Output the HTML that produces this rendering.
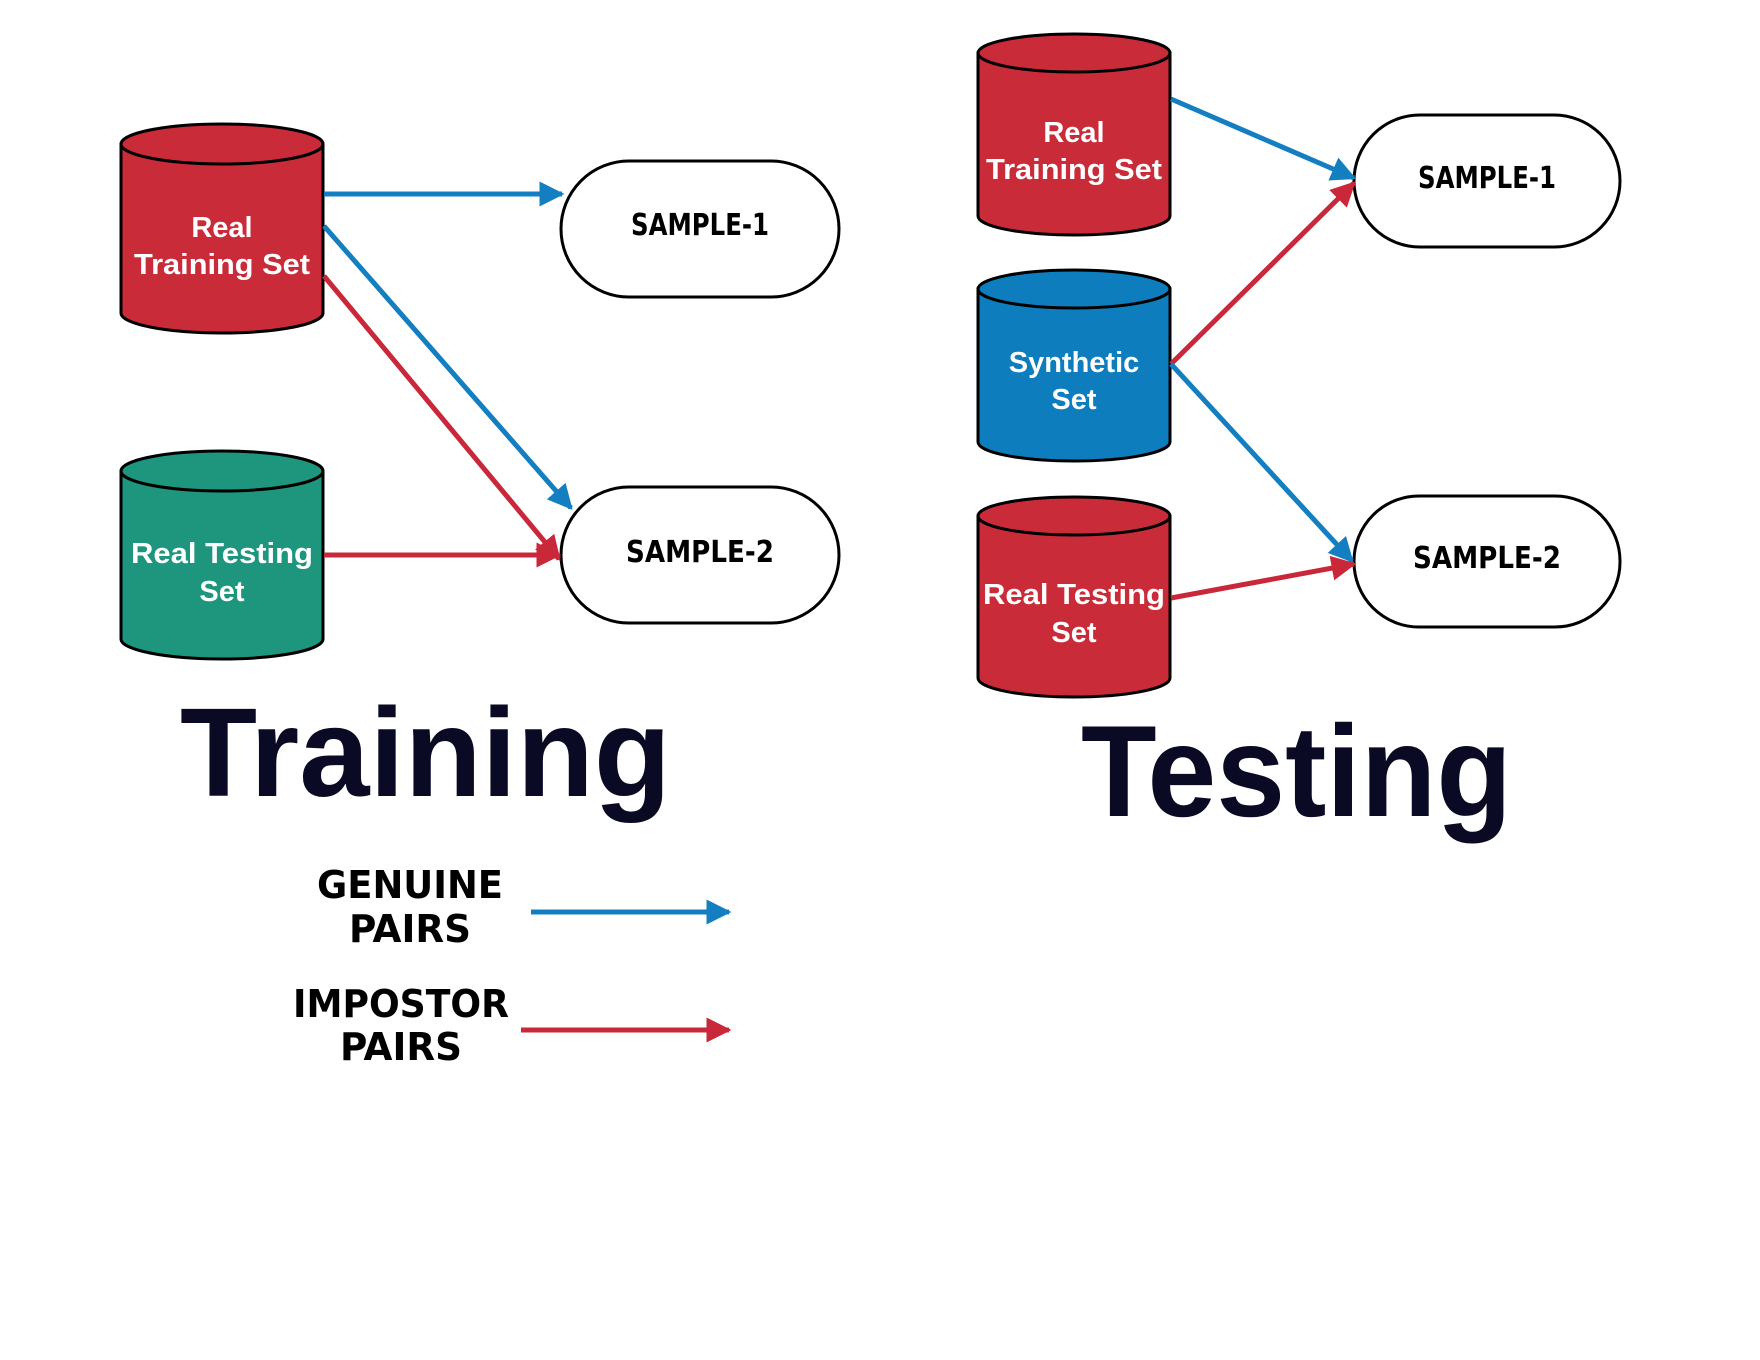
<!DOCTYPE html>
<html><head><meta charset="utf-8"><style>html,body{margin:0;padding:0;background:#fff}svg{display:block}</style></head>
<body>
<svg width="1760" height="1360" viewBox="0 0 1760 1360" xmlns="http://www.w3.org/2000/svg">
<defs>
<marker id="ab" viewBox="0 0 10 10" refX="9" refY="5" markerWidth="5" markerHeight="5" orient="auto" markerUnits="strokeWidth"><path d="M0,0 L10,5 L0,10 z" fill="#137fc1"/></marker>
<marker id="ar" viewBox="0 0 10 10" refX="9" refY="5" markerWidth="5" markerHeight="5" orient="auto" markerUnits="strokeWidth"><path d="M0,0 L10,5 L0,10 z" fill="#c9283a"/></marker>
</defs>
<g stroke="#000" stroke-width="3">
<path d="M121,144 V313 A101,20 0 0 0 323,313 V144 Z" fill="#c92b39"/>
<ellipse cx="222" cy="144" rx="101" ry="20" fill="#c92b39"/>
<path d="M121,471 V639 A101,20 0 0 0 323,639 V471 Z" fill="#1d967d"/>
<ellipse cx="222" cy="471" rx="101" ry="20" fill="#1d967d"/>
<path d="M978,53 V216 A96,19 0 0 0 1170,216 V53 Z" fill="#c92b39"/>
<ellipse cx="1074" cy="53" rx="96" ry="19" fill="#c92b39"/>
<path d="M978,289 V442 A96,19 0 0 0 1170,442 V289 Z" fill="#0d7dbd"/>
<ellipse cx="1074" cy="289" rx="96" ry="19" fill="#0d7dbd"/>
<path d="M978,516 V678 A96,19 0 0 0 1170,678 V516 Z" fill="#c92b39"/>
<ellipse cx="1074" cy="516" rx="96" ry="19" fill="#c92b39"/>
<rect x="561" y="161" width="278" height="136" rx="68" fill="#fff"/>
<rect x="561" y="487" width="278" height="136" rx="68" fill="#fff"/>
<rect x="1354" y="115" width="266" height="132" rx="66" fill="#fff"/>
<rect x="1354" y="496" width="266" height="131" rx="65" fill="#fff"/>
</g>
<g stroke-width="5" fill="none">
<line x1="324" y1="194" x2="562" y2="194" stroke="#137fc1" marker-end="url(#ab)"/>
<line x1="324" y1="226" x2="571" y2="508" stroke="#137fc1" marker-end="url(#ab)"/>
<line x1="324" y1="276" x2="559" y2="559" stroke="#c9283a" marker-end="url(#ar)"/>
<line x1="324" y1="555" x2="559" y2="555" stroke="#c9283a" marker-end="url(#ar)"/>
<line x1="1171" y1="99" x2="1354" y2="178" stroke="#137fc1" marker-end="url(#ab)"/>
<line x1="1171" y1="364" x2="1354" y2="183" stroke="#c9283a" marker-end="url(#ar)"/>
<line x1="1171" y1="364" x2="1352" y2="561" stroke="#137fc1" marker-end="url(#ab)"/>
<line x1="1171" y1="598" x2="1354" y2="564" stroke="#c9283a" marker-end="url(#ar)"/>
<line x1="531" y1="912" x2="729" y2="912" stroke="#137fc1" marker-end="url(#ab)"/>
<line x1="521" y1="1030" x2="729" y2="1030" stroke="#c9283a" marker-end="url(#ar)"/>
</g>
<g font-family="Liberation Sans, sans-serif" font-weight="bold" fill="#fff" font-size="29" text-anchor="middle">
<text x="222" y="237">Real</text>
<text x="222" y="274" textLength="176" lengthAdjust="spacingAndGlyphs">Training Set</text>
<text x="222" y="563" textLength="182" lengthAdjust="spacingAndGlyphs">Real Testing</text>
<text x="222" y="601">Set</text>
<text x="1074" y="142">Real</text>
<text x="1074" y="179" textLength="176" lengthAdjust="spacingAndGlyphs">Training Set</text>
<text x="1074" y="372">Synthetic</text>
<text x="1074" y="409">Set</text>
<text x="1074" y="604" textLength="182" lengthAdjust="spacingAndGlyphs">Real Testing</text>
<text x="1074" y="642">Set</text>
</g>
<g font-family="DejaVu Sans Condensed, DejaVu Sans, sans-serif" font-weight="bold" fill="#000" text-anchor="middle">
<text x="700" y="235" font-size="30" textLength="138" lengthAdjust="spacingAndGlyphs">SAMPLE-1</text>
<text x="700" y="562" font-size="30" textLength="148" lengthAdjust="spacingAndGlyphs">SAMPLE-2</text>
<text x="1487" y="188" font-size="30" textLength="138" lengthAdjust="spacingAndGlyphs">SAMPLE-1</text>
<text x="1487" y="568" font-size="30" textLength="148" lengthAdjust="spacingAndGlyphs">SAMPLE-2</text>
<text x="410" y="898" font-size="38" textLength="186" lengthAdjust="spacingAndGlyphs">GENUINE</text>
<text x="410" y="942" font-size="38" textLength="122" lengthAdjust="spacingAndGlyphs">PAIRS</text>
<text x="401" y="1017" font-size="38" textLength="216" lengthAdjust="spacingAndGlyphs">IMPOSTOR</text>
<text x="401" y="1060" font-size="38" textLength="122" lengthAdjust="spacingAndGlyphs">PAIRS</text>
</g>
<g font-family="Liberation Sans, sans-serif" font-weight="bold" fill="#0b0a25">
<text x="180" y="796" font-size="126" textLength="491" lengthAdjust="spacingAndGlyphs">Training</text>
<text x="1081" y="816" font-size="130" textLength="431" lengthAdjust="spacingAndGlyphs">Testing</text>
</g>
</svg>
</body></html>
